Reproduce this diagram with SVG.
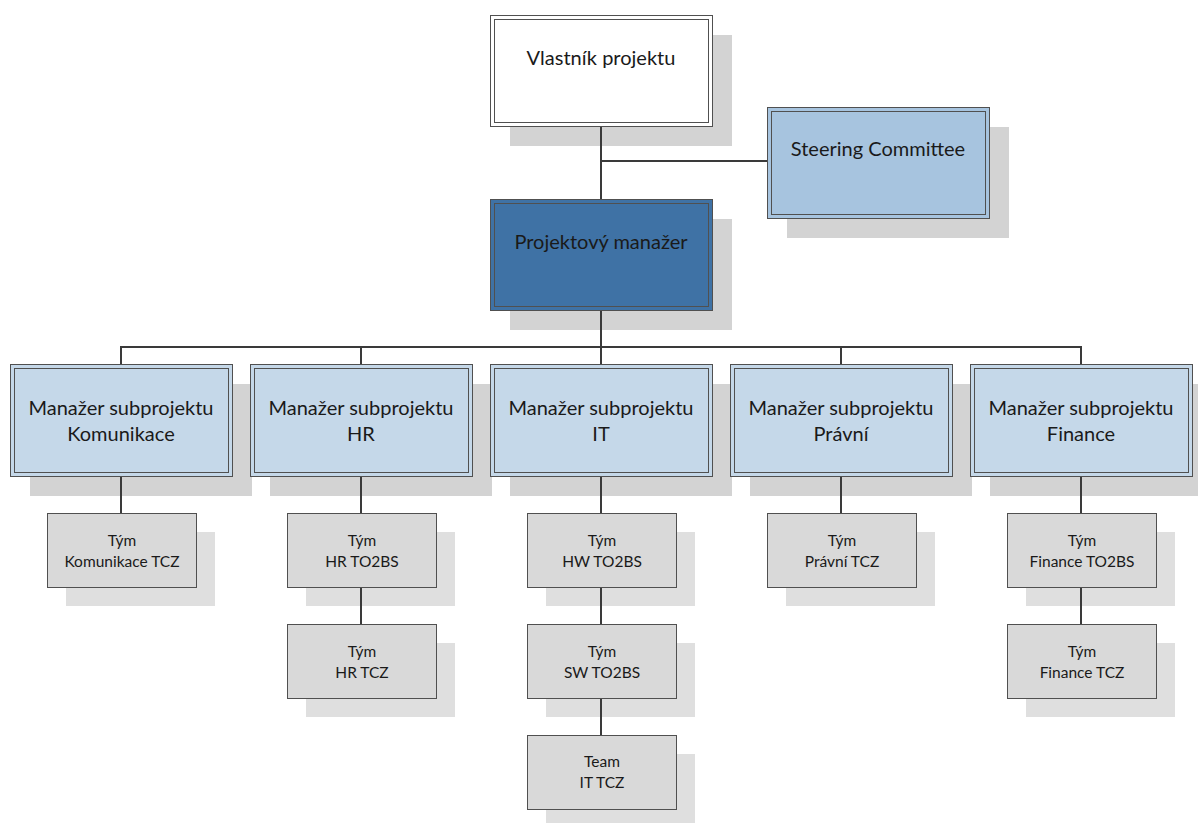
<svg xmlns="http://www.w3.org/2000/svg" width="1198" height="823" viewBox="0 0 1198 823">
<style>
text{font-family:Lato,"Open Sans","Noto Sans",sans-serif;fill:#1a1a1a;text-anchor:middle}
.big{font-size:20px}
.sm{font-size:15.5px}
.sh{fill:#d3d3d3}
.tsh{fill:#dfdfdf}
.o{stroke:#505050;stroke-width:1}
.i{fill:none;stroke:#505050;stroke-width:1}
.white{fill:#ffffff}
.pm{fill:#3f72a5}
.sc{fill:#a7c4df}
.mg{fill:#c5d8e9}
.tm{fill:#d9d9d9;stroke:#505050;stroke-width:1}
.ln{fill:none;stroke:#3a3a3a;stroke-width:2}
</style>
<rect width="1198" height="823" fill="#ffffff"/>
<g id="vlastnik">
<rect class="sh" x="510" y="35" width="222" height="111"/>
<rect class="o white" x="490.5" y="15.5" width="222" height="111"/>
<rect class="i" x="494.5" y="19.5" width="214" height="103"/>
<text class="big" x="601" y="65">Vlastník projektu</text>
</g>
<g id="steering">
<rect class="sh" x="787" y="127" width="222" height="111"/>
<rect class="o sc" x="767.5" y="107.5" width="222" height="111"/>
<rect class="i" x="771.5" y="111.5" width="214" height="103"/>
<text class="big" x="878" y="156">Steering Committee</text>
</g>
<g id="pm">
<rect class="sh" x="510" y="219" width="222" height="111"/>
<rect class="o pm" x="490.5" y="199.5" width="222" height="111"/>
<rect class="i" x="494.5" y="203.5" width="214" height="103"/>
<text class="big" x="601" y="249">Projektový manažer</text>
</g>
<g id="m-kom">
<rect class="sh" x="30" y="384" width="222" height="112"/>
<rect class="o mg" x="10.5" y="364.5" width="222" height="112"/>
<rect class="i" x="14.5" y="368.5" width="214" height="104"/>
<text class="big" x="121" y="415">Manažer subprojektu</text>
<text class="big" x="121" y="441">Komunikace</text>
</g>
<g id="m-hr">
<rect class="sh" x="270" y="384" width="222" height="112"/>
<rect class="o mg" x="250.5" y="364.5" width="222" height="112"/>
<rect class="i" x="254.5" y="368.5" width="214" height="104"/>
<text class="big" x="361" y="415">Manažer subprojektu</text>
<text class="big" x="361" y="441">HR</text>
</g>
<g id="m-it">
<rect class="sh" x="510" y="384" width="222" height="112"/>
<rect class="o mg" x="490.5" y="364.5" width="222" height="112"/>
<rect class="i" x="494.5" y="368.5" width="214" height="104"/>
<text class="big" x="601" y="415">Manažer subprojektu</text>
<text class="big" x="601" y="441">IT</text>
</g>
<g id="m-pravni">
<rect class="sh" x="750" y="384" width="222" height="112"/>
<rect class="o mg" x="730.5" y="364.5" width="222" height="112"/>
<rect class="i" x="734.5" y="368.5" width="214" height="104"/>
<text class="big" x="841" y="415">Manažer subprojektu</text>
<text class="big" x="841" y="441">Právní</text>
</g>
<g id="m-fin">
<rect class="sh" x="990" y="384" width="222" height="112"/>
<rect class="o mg" x="970.5" y="364.5" width="222" height="112"/>
<rect class="i" x="974.5" y="368.5" width="214" height="104"/>
<text class="big" x="1081" y="415">Manažer subprojektu</text>
<text class="big" x="1081" y="441">Finance</text>
</g>
<g id="t-kom">
<rect class="tsh" x="66" y="532" width="149" height="74"/>
<rect class="tm" x="47.5" y="513.5" width="149" height="74"/>
<text class="sm" x="122" y="546">Tým</text>
<text class="sm" x="122" y="567">Komunikace TCZ</text>
</g>
<g id="t-hr1">
<rect class="tsh" x="306" y="532" width="149" height="74"/>
<rect class="tm" x="287.5" y="513.5" width="149" height="74"/>
<text class="sm" x="362" y="546">Tým</text>
<text class="sm" x="362" y="567">HR TO2BS</text>
</g>
<g id="t-hr2">
<rect class="tsh" x="306" y="643" width="149" height="74"/>
<rect class="tm" x="287.5" y="624.5" width="149" height="74"/>
<text class="sm" x="362" y="657">Tým</text>
<text class="sm" x="362" y="678">HR TCZ</text>
</g>
<g id="t-hw">
<rect class="tsh" x="546" y="532" width="149" height="74"/>
<rect class="tm" x="527.5" y="513.5" width="149" height="74"/>
<text class="sm" x="602" y="546">Tým</text>
<text class="sm" x="602" y="567">HW TO2BS</text>
</g>
<g id="t-sw">
<rect class="tsh" x="546" y="643" width="149" height="74"/>
<rect class="tm" x="527.5" y="624.5" width="149" height="74"/>
<text class="sm" x="602" y="657">Tým</text>
<text class="sm" x="602" y="678">SW TO2BS</text>
</g>
<g id="t-it">
<rect class="tsh" x="546" y="754" width="149" height="74"/>
<rect class="tm" x="527.5" y="735.5" width="149" height="74"/>
<text class="sm" x="602" y="767">Team</text>
<text class="sm" x="602" y="788">IT TCZ</text>
</g>
<g id="t-pravni">
<rect class="tsh" x="786" y="532" width="149" height="74"/>
<rect class="tm" x="767.5" y="513.5" width="149" height="74"/>
<text class="sm" x="842" y="546">Tým</text>
<text class="sm" x="842" y="567">Právní TCZ</text>
</g>
<g id="t-fin1">
<rect class="tsh" x="1026" y="532" width="149" height="74"/>
<rect class="tm" x="1007.5" y="513.5" width="149" height="74"/>
<text class="sm" x="1082" y="546">Tým</text>
<text class="sm" x="1082" y="567">Finance TO2BS</text>
</g>
<g id="t-fin2">
<rect class="tsh" x="1026" y="643" width="149" height="74"/>
<rect class="tm" x="1007.5" y="624.5" width="149" height="74"/>
<text class="sm" x="1082" y="657">Tým</text>
<text class="sm" x="1082" y="678">Finance TCZ</text>
</g>
<g id="connectors" class="ln">
<path d="M601,127 V199"/>
<path d="M601,161 H767"/>
<path d="M601,311 V347"/>
<path d="M121,364 V347 H1081 V364"/>
<path d="M361,347 V364"/>
<path d="M601,347 V364"/>
<path d="M841,347 V364"/>
<path d="M121,477 V513"/>
<path d="M361,477 V513"/>
<path d="M601,477 V513"/>
<path d="M841,477 V513"/>
<path d="M1081,477 V513"/>
<path d="M361,588 V624"/>
<path d="M601,588 V624"/>
<path d="M601,699 V735"/>
<path d="M1081,588 V624"/>
</g>
</svg>
